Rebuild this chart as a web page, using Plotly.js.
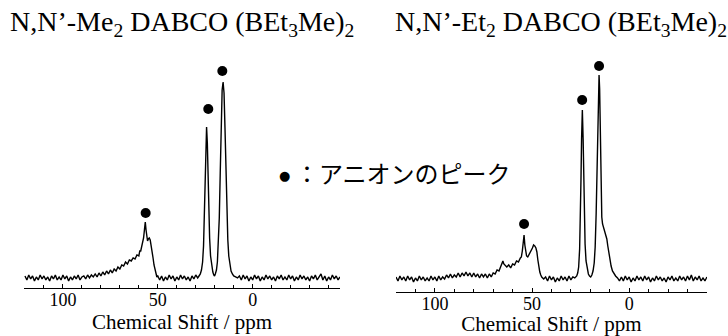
<!DOCTYPE html>
<html>
<head>
<meta charset="utf-8">
<script src="https://cdn.plot.ly/plotly-3.0.1.min.js"></script>
<style>html,body{margin:0;padding:0;background:#fff;}#chart{width:728px;height:336px;}</style>
</head>
<body>
<div id="chart"></div>
<script>
// ---- Data ----
const leftTitle = "N,N’-Me<sub>2</sub> DABCO (BEt<sub>3</sub>Me)<sub>2</sub>";
const rightTitle = "N,N’-Et<sub>2</sub> DABCO (BEt<sub>3</sub>Me)<sub>2</sub>";
const axisTitle = "Chemical Shift / ppm";
const legendText = "：アニオンのピーク";
const tickValues = [100, 50, 0];
const tickLabels = ["100", "50", "0"];

// left spectrum: [ppm, intensity]
const leftSpectrum = [
[120,2],[119,-2],[118,3],[117,-1],[116,2],[115,-3],[114,1],[113,-2],[112,3],[111,-1],[110,2],[109,-2],[108,1],[107,-3],[106,2],[105,-1],[104,3],[103,-2],[102,1],[101,-2],[100,3],[99,-1],[98,2],[97,-3],[96,1],[95,-2],[94,2],[93,-1],[92,3],[91,-2],[90,1],
[89,2],[88,-1],[87,3],[86,0],[85,3],[84,1],[83,4],[82,1],[81,5],[80,2],[79,6],[78,3],[77,7],[76,4],[75,8],[74,5],[73,9],[72,7],[71,11],[70,9],[69,13],[68,12],[67,16],[66,14],[65,18],[64,17],[63,20],[62,19],[61,23],[60,22],[59.5,27],[59,27],[58.5,32],[58,34],[57.5,40],[57,49],[56.6,56],[56.2,48],[55.8,38],[55.4,37],[55,39],[54.5,40],[54,38],[53.5,33],[53,27],[52.5,20],[52,13],[51.5,8],[51,4],[50.5,1],
[50,2],[49,-2],[48,2],[47,-3],[46,1],[45,-2],[44,3],[43,-1],[42,2],[41,-3],[40,1],[39,-2],[38,3],[37,-1],[36,2],[35,-2],[34,1],[33,-3],[32,2],[31,-1],[30,3],[29,0],
[28.3,2],[27.6,4],[27.0,8],[26.4,16],[25.9,32],[25.5,60],[25.1,100],[24.7,135],[24.3,151],[23.9,135],[23.5,100],[23.1,65],[22.7,40],[22.2,22],[21.6,11],[21.0,6],[20.5,3],[20.1,2],
[19.7,4],[19.1,8],[18.6,16],[18.1,32],[17.6,60],[17.1,105],[16.6,155],[16.1,188],[15.6,196],[15.1,185],[14.6,150],[14.1,105],[13.6,65],[13.1,38],[12.6,22],[12.0,12],[11.4,7],[10.7,4],[10.0,2],[9,1],[8,0],
[7,2],[6,-2],[5,3],[4,-1],[3,2],[2,-3],[1,1],[0,-2],[-1,3],[-2,-1],[-3,2],[-4,-3],[-5,1],[-6,-2],[-7,3],[-8,-1],[-9,2],[-10,-2],[-11,1],[-12,-3],[-13,2],[-14,-1],[-15,3],[-16,-2],[-17,1],[-18,-2],[-19,3],[-20,-1],[-21,2],[-22,-3],[-23,1],[-24,-2],[-25,3],[-26,-1],[-27,2],[-28,-2],[-29,1],[-30,-3],[-31,2],[-32,-1],[-33,3],[-34,-2],[-35,1],[-36,4],[-37,-2],[-38,2],[-39,-3],[-40,1],[-41,-2],[-42,3],[-43,-1],[-44,2],[-45,-2],[-46,1]
];

// right spectrum: [ppm, intensity]
const rightSpectrum = [
[120,2],[119,-2],[118,3],[117,-1],[116,2],[115,-2],[114,3],[113,-1],[112,2],[111,-3],[110,1],[109,-2],[108,3],[107,-1],[106,2],[105,-2],[104,1],[103,-2],[102,3],[101,-1],[100,2],[99,-2],[98,3],[97,-1],[96,2],[95,0],[94,4],[93,1],[92,5],[91,1],[90,4],[89,2],[88,6],[87,2],[86,6],[85,3],[84,7],[83,3],[82,6],[81,2],[80,6],[79,2],[78,5],[77,1],[76,5],[75,2],[74,5],[73,1],[72,5],[71,2],[70,6],
[69,5],[68,9],[67,8],[66,13],[65,18],[64.5,15],[64,14],[63,12],[62,14],[61,11],[60,15],[59,14],[58,18],[57,17],[56,21],[55.5,22],[55,28],[54.5,36],[54.1,44],[53.7,34],[53.3,26],[52.8,23],[52.2,22],[51.6,24],[51,26],[50.4,29],[49.8,31],[49.2,34],[48.6,33],[48,31],[47.5,27],[47,19],[46.5,12],[46,7],[45.5,4],[45,2],[44,0],
[43,2],[42,-2],[41,3],[40,-1],[39,2],[38,-3],[37,1],[36,-2],[35,3],[34,-1],[33,2],[32,-2],[31,3],[30,-1],[29,2],
[28,1],[27,3],[26.5,6],[26,12],[25.5,30],[25.1,60],[24.8,100],[24.5,140],[24.1,169],[23.7,140],[23.4,100],[23.1,65],[22.7,35],[22.2,18],[21.6,9],[21.0,5],[20.4,3],[19.8,2],
[19.2,4],[18.6,8],[18.0,16],[17.5,32],[17.0,65],[16.6,110],[16.2,160],[15.8,195],[15.5,204],[15.2,190],[14.8,140],[14.4,90],[14.1,62],[13.7,55],[13.3,52],[12.9,49],[12.4,45],[11.9,42],[11.5,40],[11.0,33],[10.5,26],[10.0,20],[9.3,13],[8.6,8],[7.8,5],[7.0,3],[6.0,1],
[5,-2],[4,2],[3,-2],[2,3],[1,-1],[0,2],[-1,-3],[-2,1],[-3,-2],[-4,3],[-5,-1],[-6,2],[-7,-2],[-8,3],[-9,-1],[-10,2],[-11,-3],[-12,1],[-13,-2],[-14,3],[-15,-1],[-16,2],[-17,-2],[-18,1],[-19,-3],[-20,2],[-21,-1],[-22,3],[-23,-2],[-24,1],[-25,-2],[-26,3],[-27,-1],[-28,2],[-29,-2],[-30,3],[-31,-1],[-32,4],[-33,-2],[-34,2],[-35,-1],[-36,3],[-37,-2],[-38,1],[-39,-2],[-40,2]
];

// anion peak markers (ppm, height of dot)
const leftDotPpm = [56.4, 23.4, 16.0];
const leftDotInt = [65, 169, 207];
const rightDotPpm = [54.1, 24.2, 15.5];
const rightDotInt = [55, 179, 213];

// ---- Plot ----
const lineStyle = {color: "#000", width: 1.4};
const dotStyle = {color: "#000", size: 10};
const traces = [
  {x: leftSpectrum.map(p => p[0]), y: leftSpectrum.map(p => p[1]), type: "scatter", mode: "lines", line: lineStyle, xaxis: "x", yaxis: "y", hoverinfo: "skip"},
  {x: leftDotPpm, y: leftDotInt, type: "scatter", mode: "markers", marker: dotStyle, xaxis: "x", yaxis: "y"},
  {x: rightSpectrum.map(p => p[0]), y: rightSpectrum.map(p => p[1]), type: "scatter", mode: "lines", line: lineStyle, xaxis: "x2", yaxis: "y2", hoverinfo: "skip"},
  {x: rightDotPpm, y: rightDotInt, type: "scatter", mode: "markers", marker: dotStyle, xaxis: "x2", yaxis: "y2"}
];

const tickFont = {family: "Liberation Serif, Times New Roman, serif", size: 18, color: "#000"};
const titleFont = {family: "Liberation Serif, Times New Roman, serif", size: 21, color: "#000"};
function xAxis(domain, range, anchor, standoff) {
  return {
    domain: domain, range: range, anchor: anchor,
    showline: true, linecolor: "#000", linewidth: 1,
    showgrid: false, zeroline: false,
    ticks: "inside", ticklen: 4, tickwidth: 1, tickcolor: "#000",
    tickmode: "array", tickvals: tickValues, ticktext: tickLabels,
    tickfont: tickFont, ticklabelstandoff: -5,
    minor: {dtick: 10, tick0: 0, ticks: "inside", ticklen: 2.5, tickcolor: "#000", tickwidth: 1, showgrid: false},
    title: {text: axisTitle, font: titleFont, standoff: standoff}
  };
}
const layout = {
  width: 728, height: 336,
  margin: {l: 0, r: 0, t: 0, b: 0},
  paper_bgcolor: "#fff", plot_bgcolor: "rgba(0,0,0,0)",
  showlegend: false,
  xaxis: xAxis([0.033, 0.467], [120.5, -46], "y", 3),
  yaxis: {domain: [0.1429, 0.8214], range: [-10, 218], visible: false, anchor: "x"},
  xaxis2: xAxis([0.544, 0.971], [120, -40], "y2", 3),
  yaxis2: {domain: [0.131, 0.8214], range: [-13, 219], visible: false, anchor: "x2"},
  annotations: [
    {text: leftTitle, xref: "paper", yref: "paper", x: 182/728, y: 1 - 24/336, xanchor: "center", yanchor: "middle", showarrow: false,
     font: {family: "Liberation Serif, Times New Roman, serif", size: 28, color: "#000"}},
    {text: rightTitle, xref: "paper", yref: "paper", x: 561/728, y: 1 - 24/336, xanchor: "center", yanchor: "middle", showarrow: false,
     font: {family: "Liberation Serif, Times New Roman, serif", size: 28, color: "#000"}},
    {text: "●", xref: "paper", yref: "paper", x: 284/728, y: 1 - 175/336, xanchor: "center", yanchor: "middle", showarrow: false,
     font: {family: "DejaVu Sans", size: 13, color: "#000"}},
    {text: legendText, xref: "paper", yref: "paper", x: 293/728, y: 1 - 172/336, xanchor: "left", yanchor: "middle", showarrow: false,
     font: {family: "Noto Sans CJK JP", size: 24, color: "#000"}}
  ]
};
Plotly.newPlot("chart", traces, layout, {staticPlot: true, displayModeBar: false});
</script>
</body>
</html>
